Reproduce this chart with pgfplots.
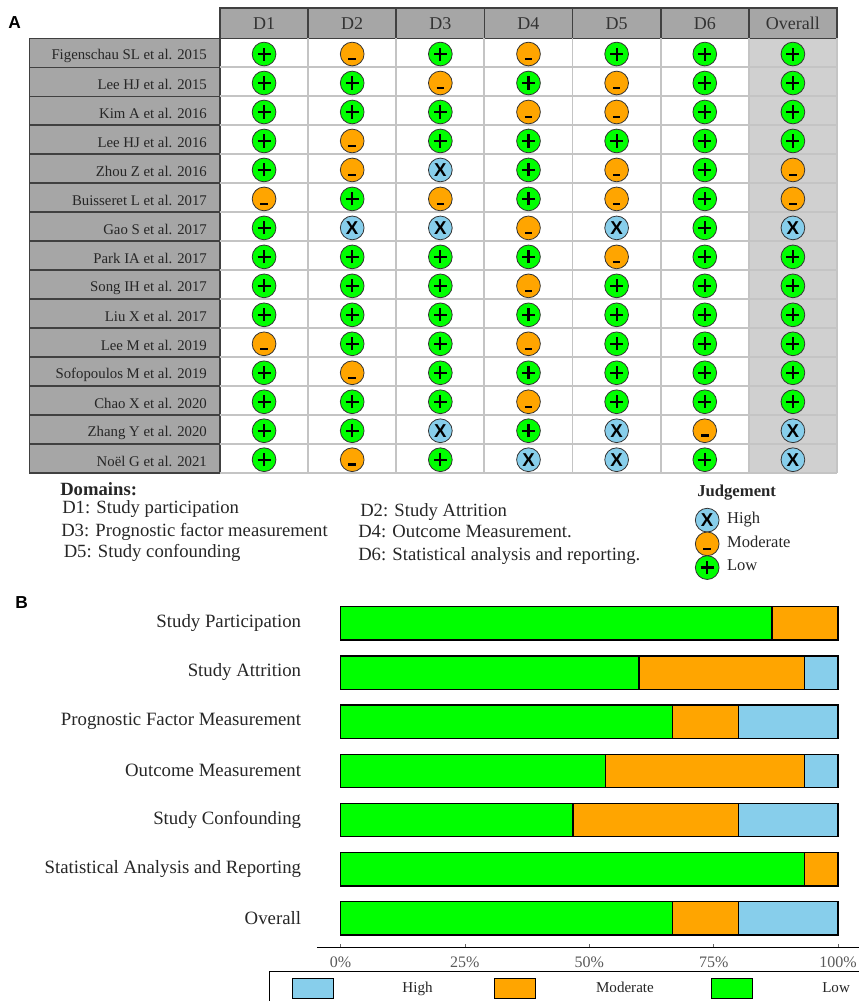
\documentclass[border=0pt]{standalone}
\usepackage{fontspec}
\setmainfont{Liberation Serif}
\newfontfamily\arial{Liberation Sans}
\usepackage{pgfplots}
\pgfplotsset{compat=1.18}

\definecolor{lowc}{HTML}{00FF00}
\definecolor{modc}{HTML}{FFA500}
\definecolor{highc}{HTML}{87CEEB}
\definecolor{cellc}{HTML}{A6A6A6}
\definecolor{cellb}{HTML}{404040}
\definecolor{gridc}{HTML}{C4C4C4}
\definecolor{overc}{HTML}{D0D0D0}

% risk of bias marks
\pgfdeclareplotmark{robL}{%
  \pgfpathcircle{\pgfpointorigin}{\pgfplotmarksize}\pgfusepathqfillstroke
  \begin{pgfscope}
  \pgfsetlinewidth{1.7pt}\pgfsetbuttcap\pgfsetstrokecolor{black}
  \pgfpathmoveto{\pgfpoint{-4.9pt}{0pt}}\pgfpathlineto{\pgfpoint{4.9pt}{0pt}}
  \pgfpathmoveto{\pgfpoint{0pt}{-4.9pt}}\pgfpathlineto{\pgfpoint{0pt}{4.9pt}}
  \pgfusepathqstroke
  \end{pgfscope}}
\pgfdeclareplotmark{robM}{%
  \pgfpathcircle{\pgfpointorigin}{\pgfplotmarksize}\pgfusepathqfillstroke
  \begin{pgfscope}
  \pgfsetlinewidth{1.6pt}\pgfsetbuttcap\pgfsetstrokecolor{black}
  \pgfpathmoveto{\pgfpoint{-2.8pt}{-3.6pt}}\pgfpathlineto{\pgfpoint{2.8pt}{-3.6pt}}
  \pgfusepathqstroke
  \end{pgfscope}}
\pgfdeclareplotmark{robH}{%
  \pgfpathcircle{\pgfpointorigin}{\pgfplotmarksize}\pgfusepathqfillstroke
  \pgftext{\arial\bfseries\fontsize{14}{15}\selectfont X}}

\begin{document}
\begin{tikzpicture}
\path[use as bounding box] (0pt,0pt) rectangle (644.25pt,-750.75pt);
\begin{scope}[x=0.75pt,y=-0.75pt]
\coordinate (pa) at (220,473);
\coordinate (pb) at (317,947.7);
\node[anchor=west,inner sep=0pt,font=\arial\bfseries\fontsize{13}{14}\selectfont] at (8,23) {A};
\node[anchor=west,inner sep=0pt,font=\arial\bfseries\fontsize{13}{14}\selectfont] at (15,603) {B};
\begin{scope}[every node/.style={anchor=base west,inner sep=0pt,font=\fontsize{14}{15}\selectfont,text=black!85}]
\node[font=\bfseries\fontsize{14}{15}\selectfont] at (60,495) {Domains:};
\node at (62,513) {D1: Study participation};
\node at (61,536) {D3: Prognostic factor measurement};
\node at (63.5,557) {D5: Study confounding};
\node at (360,516) {D2: Study Attrition};
\node at (358,537) {D4: Outcome Measurement.};
\node at (358,560) {D6: Statistical analysis and reporting.};
\node[font=\bfseries\fontsize{12.5}{13}\selectfont] at (697,496) {Judgement};
\end{scope}
\end{scope}

% panel A: traffic light table
\begin{axis}[
  at={(pa)},anchor=south west,
  scale only axis,width=462.75pt,height=326pt,
  clip=false,axis on top,
  xmin=-0.5,xmax=6.5,ymin=0.5,ymax=15.5,
  y dir=reverse,
  xtick={0,...,6},
  xticklabels={D1,D2,D3,D4,D5,D6,Overall},
  xticklabel pos=top,
  ytick={1,...,15},
  yticklabels={Figenschau SL et al. 2015,Lee HJ et al. 2015,Kim A et al. 2016,Lee HJ et al. 2016,Zhou Z et al. 2016,Buisseret L et al. 2017,Gao S et al. 2017,Park IA et al. 2017,Song IH  et al. 2017,Liu X et al. 2017,Lee M et al. 2019,Sofopoulos  M et al. 2019,Chao X et al. 2020,Zhang Y et al. 2020,Noël G et al. 2021},
  minor xtick={0.5,1.5,2.5,3.5,4.5,5.5,6.5},
  minor ytick={1.5,2.5,3.5,4.5,5.5,6.5,7.5,8.5,9.5,10.5,11.5,12.5,13.5,14.5,15.5},
  grid=minor,
  minor grid style={gridc,line width=1.4pt},
  axis line style={draw=none},
  major tick length=0pt,minor tick length=0pt,
  x tick label style={anchor=base,yshift=7pt,font=\fontsize{13.5}{14}\selectfont,text=black!80},
  y tick label style={anchor=east,xshift=-6.3pt,yshift=-2.2pt,font=\fontsize{11.1}{12}\selectfont,text=black!85},
  legend cell align=left,
  legend style={at={(0.770,-0.0805)},anchor=north west,draw=none,fill=none,inner sep=0pt,
    nodes={inner sep=0pt,anchor=west,font=\fontsize{12.4}{13}\selectfont,text=black!85},
    row sep=0pt,
    /tikz/column 1/.style={column sep=6pt}},
  mark size=8.9pt,
]
\fill[overc] (axis cs:5.5,0.5) rectangle (axis cs:6.5,15.5);
\pgfplotsinvokeforeach{1,...,15}{
  \draw[fill=cellc,draw=cellb,line width=1.2pt] (axis cs:-2.661,#1-0.5) rectangle (axis cs:-0.5,#1+0.5);
}
\pgfplotsinvokeforeach{0,...,6}{
  \draw[fill=cellc,draw=cellb,line width=1.2pt] (axis cs:#1-0.5,-0.546) rectangle (axis cs:#1+0.5,0.5);
}
\addplot[only marks,mark=robH,mark options={fill=highc,draw=black!80,line width=0.6pt,yshift=-0.9pt}] coordinates {
  (2,5) (1,7) (2,7) (4,7) (6,7) (2,14) (4,14) (6,14) (3,15) (4,15) (6,15)};
\addplot[only marks,mark=robM,mark options={fill=modc,draw=black!80,line width=0.6pt,yshift=-0.9pt}] coordinates {
  (0,6) (0,11)
  (1,1) (1,4) (1,5) (1,12) (1,15)
  (2,2) (2,6)
  (3,1) (3,3) (3,7) (3,9) (3,11) (3,13)
  (4,2) (4,3) (4,5) (4,6) (4,8)
  (5,14)
  (6,5) (6,6)};
\addplot[only marks,mark=robL,mark options={fill=lowc,draw=black!80,line width=0.6pt,yshift=-0.9pt}] coordinates {
  (0,1) (0,2) (0,3) (0,4) (0,5) (0,7) (0,8) (0,9) (0,10) (0,12) (0,13) (0,14) (0,15)
  (1,2) (1,3) (1,6) (1,8) (1,9) (1,10) (1,11) (1,13) (1,14)
  (2,1) (2,3) (2,4) (2,8) (2,9) (2,10) (2,11) (2,12) (2,13) (2,15)
  (3,2) (3,4) (3,5) (3,6) (3,8) (3,10) (3,12) (3,14)
  (4,1) (4,4) (4,9) (4,10) (4,11) (4,12) (4,13)
  (5,1) (5,2) (5,3) (5,4) (5,5) (5,6) (5,7) (5,8) (5,9) (5,10) (5,11) (5,12) (5,13) (5,15)
  (6,1) (6,2) (6,3) (6,4) (6,8) (6,9) (6,10) (6,11) (6,12) (6,13)};
\legend{High,Moderate,Low}
\end{axis}

% panel B: summary bars
\begin{axis}[
  at={(pb)},anchor=south west,
  scale only axis,width=406.5pt,height=265.35pt,
  clip=false,
  xbar stacked,bar width=25pt,
  xmin=-4.72,xmax=104.2,ymin=0.4,ymax=7.596,
  y dir=reverse,
  axis x line*=bottom,axis y line*=left,
  y axis line style={draw=none},
  x axis line style={-,line width=1pt},
  ytick={1,...,7},
  ytick style={draw=none},
  yticklabels={Study Participation,Study Attrition,Prognostic Factor Measurement,Outcome Measurement,Study Confounding,Statistical Analysis and Reporting,Overall},
  xtick={0,25,50,75,100},
  xticklabels={0\%,25\%,50\%,75\%,100\%},
  xtick style={draw=black!60,line width=0.5pt},
  major tick length=3pt,
  x tick label style={yshift=-3pt,font=\fontsize{12}{13}\selectfont,text=black!65},
  y tick label style={anchor=east,xshift=-8.4pt,yshift=0.5pt,font=\fontsize{14.1}{15}\selectfont,text=black!85},
  reverse legend,
  legend columns=3,
  legend image code/.code={\draw[#1,line width=1.1pt] (0pt,-7.5pt) rectangle (30.75pt,7.5pt);},
  legend style={at={(-0.0885,-0.0659)},anchor=north west,draw=black,line width=0.9pt,fill=white,
    inner xsep=16.8pt,inner ysep=4.5pt,
    nodes={inner sep=0pt,anchor=west,font=\fontsize{11.3}{12}\selectfont,text=black!85},
    /tikz/column 1/.style={column sep=51pt},
    /tikz/column 2/.style={column sep=45.75pt},
    /tikz/column 3/.style={column sep=45pt},
    /tikz/column 4/.style={column sep=42.75pt},
    /tikz/column 5/.style={column sep=51.75pt}},
  every axis plot/.append style={draw=black,line width=1.1pt},
]
\addplot[fill=lowc] coordinates {(86.7,1) (60,2) (66.7,3) (53.3,4) (46.7,5) (93.3,6) (66.7,7)};
\addplot[fill=modc] coordinates {(13.3,1) (33.3,2) (13.3,3) (40,4) (33.3,5) (6.7,6) (13.3,7)};
\addplot[fill=highc] coordinates {(0,1) (6.7,2) (20,3) (6.7,4) (20,5) (0,6) (20,7)};
\legend{Low,Moderate,High}
\end{axis}
\end{tikzpicture}
\end{document}
